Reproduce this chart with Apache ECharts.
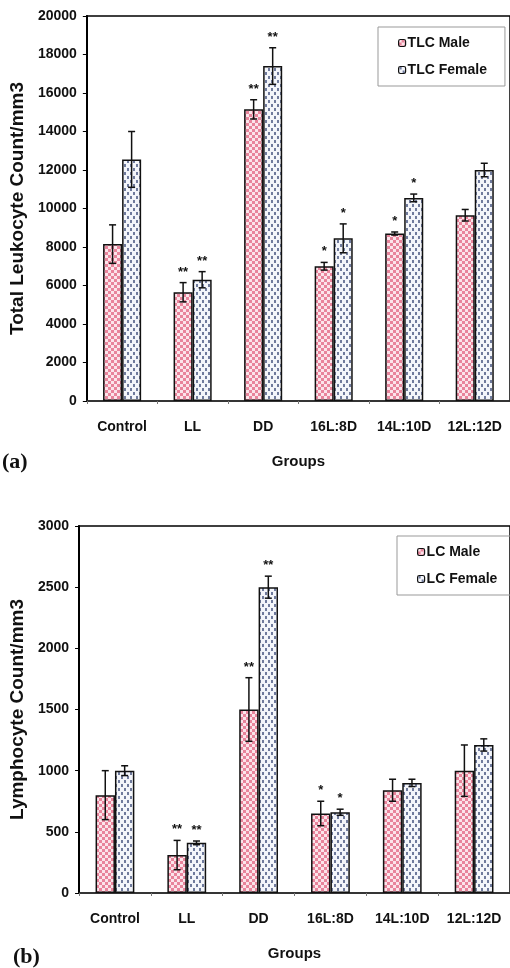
<!DOCTYPE html>
<html>
<head>
<meta charset="utf-8">
<script src="https://cdn.jsdelivr.net/npm/echarts@6/dist/echarts.min.js"></script>
<style>
html,body{margin:0;padding:0;background:#fff;}
#chart{width:510px;height:968px;}
</style>
</head>
<body>
<div id="chart"></div>
<script>
// ---- data ----
const categories = ['Control', 'LL', 'DD', '16L:8D', '14L:10D', '12L:12D'];
// (a) Total leukocyte count
const tlcMale = [8150, 5650, 15150, 7000, 8700, 9650];
const tlcMaleErr = [1000, 500, 500, 200, 80, 300];
const tlcFemale = [12550, 6300, 17400, 8450, 10550, 12000];
const tlcFemaleErr = [1450, 420, 950, 750, 200, 350];
const tlcSigMale = ['', '**', '**', '*', '*', ''];
const tlcSigFemale = ['', '**', '**', '*', '*', ''];
// (b) Lymphocyte count
const lcMale = [800, 310, 1500, 650, 840, 1000];
const lcMaleErr = [200, 120, 260, 100, 90, 210];
const lcFemale = [1000, 410, 2500, 660, 900, 1210];
const lcFemaleErr = [40, 15, 90, 25, 30, 50];
const lcSigMale = ['', '**', '**', '*', '', ''];
const lcSigFemale = ['', '**', '**', '*', '', ''];
const tlcTicks = {min: 0, max: 20000, interval: 2000};
const lcTicks = {min: 0, max: 3000, interval: 500};

// ---- patterns ----
function malePattern() {
  const c = document.createElement('canvas');
  c.width = 6; c.height = 6;
  const g = c.getContext('2d');
  g.fillStyle = '#e8849b'; g.fillRect(0, 0, 6, 6);
  g.fillStyle = '#fbe4ea';
  g.fillRect(0, 0, 3, 3); g.fillRect(3, 3, 3, 3);
  return {image: c, repeat: 'repeat'};
}
function femalePattern() {
  const c = document.createElement('canvas');
  c.width = 6; c.height = 8;
  const g = c.getContext('2d');
  g.fillStyle = '#f3f5fa'; g.fillRect(0, 0, 6, 8);
  g.fillStyle = '#6f7a9c';
  g.fillRect(1, 0, 2, 3); g.fillRect(4, 4, 2, 3);
  return {image: c, repeat: 'repeat'};
}
const MP = malePattern(), FP = femalePattern();

const sans = "'Liberation Sans', Arial, sans-serif";

function errSeries(xi, vals, errs, sigs, side) {
  return {
    type: 'custom', xAxisIndex: xi, yAxisIndex: xi, z: 5, silent: true,
    data: vals.map((v, i) => [i, v]),
    renderItem: function (params, api) {
      const i = params.dataIndex;
      const bw = api.size([1, 0])[0] * 0.27;
      const base = api.coord([i, vals[i]]);
      const x = base[0] + side * bw / 2;
      const yt = api.coord([i, vals[i] + errs[i]])[1];
      const yb = api.coord([i, vals[i] - errs[i]])[1];
      const cap = 3.5;
      const st = {stroke: '#111', lineWidth: 1.5};
      return {
        type: 'group',
        children: [
          {type: 'line', shape: {x1: x, y1: yt, x2: x, y2: yb}, style: st},
          {type: 'line', shape: {x1: x - cap, y1: yt, x2: x + cap, y2: yt}, style: st},
          {type: 'line', shape: {x1: x - cap, y1: yb, x2: x + cap, y2: yb}, style: st},
          {type: 'text', x: x, y: yt - 4, style: {text: sigs[i], textAlign: 'center', textVerticalAlign: 'bottom', font: 'bold 13px ' + sans, fill: '#111'}}
        ]
      };
    }
  };
}

function barSeries(name, xi, vals, pat) {
  return {
    name: name, type: 'bar', xAxisIndex: xi, yAxisIndex: xi,
    data: vals, barWidth: '27%', barGap: '0%',
    itemStyle: {color: pat, borderColor: '#111', borderWidth: 1.5},
    emphasis: {disabled: true}
  };
}

function xAx(gi) {
  return {
    type: 'category', gridIndex: gi, data: categories,
    name: 'Groups', nameLocation: 'middle', nameGap: 53,
    nameTextStyle: {fontFamily: sans, fontWeight: 'bold', fontSize: 15, color: '#111'},
    axisLine: {lineStyle: {color: '#333', width: 1.5}},
    axisTick: {show: true, length: 3, lineStyle: {color: '#777'}},
    axisLabel: {margin: 19, fontFamily: sans, fontWeight: 'bold', fontSize: 14, color: '#111', interval: 0}
  };
}
function yAx(gi, name, t, gap) {
  return {
    type: 'value', gridIndex: gi, min: t.min, max: t.max, interval: t.interval,
    name: name, nameLocation: 'middle', nameGap: gap,
    nameTextStyle: {fontFamily: sans, fontWeight: 'bold', fontSize: 19, color: '#111'},
    axisLine: {show: true, lineStyle: {color: '#000', width: 2}},
    axisTick: {show: true, length: 4, lineStyle: {color: '#000'}},
    splitLine: {show: false},
    axisLabel: {margin: 10, fontFamily: sans, fontWeight: 'bold', fontSize: 14, color: '#111',
      formatter: function (v) { return String(v); }}
  };
}
function legend(left, top, names) {
  return {
    orient: 'vertical', left: left, top: top, data: names,
    itemWidth: 7, itemHeight: 7, itemGap: 13,
    padding: [9, 18, 9, 20],
    borderColor: '#999', borderWidth: 1,
    itemStyle: {borderWidth: 1.2, borderColor: '#111'},
    textStyle: {fontFamily: sans, fontWeight: 'bold', fontSize: 14, color: '#111', padding: [0, 0, 0, -3]},
    selectedMode: false
  };
}

const chart = echarts.init(document.getElementById('chart'), null, {renderer: 'canvas'});
chart.setOption({
  animation: false,
  backgroundColor: '#fff',
  grid: [
    {left: 81, right: -10, top: 16, bottom: 567, show: true, borderColor: '#000', borderWidth: 1.5},
    {left: 76, right: -7, top: 526, bottom: 75, show: true, borderColor: '#000', borderWidth: 1.5}
  ],
  xAxis: [xAx(0), xAx(1)],
  yAxis: [yAx(0, 'Total Leukocyte Count/mm3', tlcTicks, 54), yAx(1, 'Lymphocyte Count/mm3', lcTicks, 49)],
  legend: [legend(378, 27, ['TLC Male', 'TLC Female']), legend(397, 536, ['LC Male', 'LC Female'])],
  graphic: [
    {type: 'text', left: 2, top: 451, style: {text: '(a)', font: "bold 22px 'Liberation Serif', serif", fill: '#111'}},
    {type: 'text', left: 13, top: 946, style: {text: '(b)', font: "bold 22px 'Liberation Serif', serif", fill: '#111'}}
  ],
  series: [
    barSeries('TLC Male', 0, tlcMale, MP),
    barSeries('TLC Female', 0, tlcFemale, FP),
    barSeries('LC Male', 1, lcMale, MP),
    barSeries('LC Female', 1, lcFemale, FP),
    errSeries(0, tlcMale, tlcMaleErr, tlcSigMale, -1),
    errSeries(0, tlcFemale, tlcFemaleErr, tlcSigFemale, 1),
    errSeries(1, lcMale, lcMaleErr, lcSigMale, -1),
    errSeries(1, lcFemale, lcFemaleErr, lcSigFemale, 1)
  ]
});
</script>
</body>
</html>
